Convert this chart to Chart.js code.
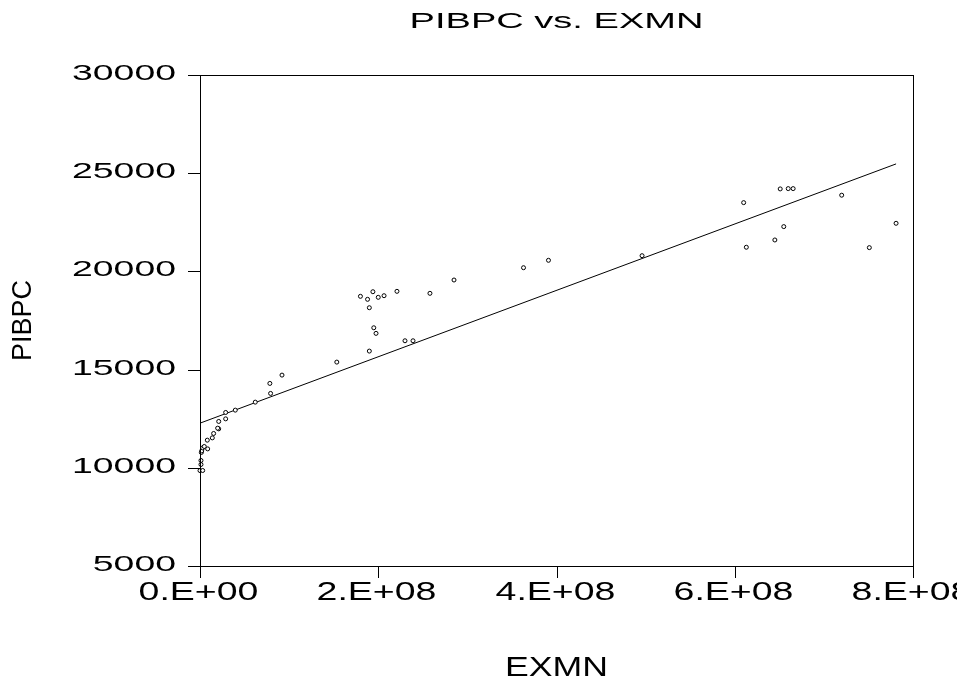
<!DOCTYPE html>
<html>
<head>
<meta charset="utf-8">
<script src="https://cdn.jsdelivr.net/npm/chart.js@4/dist/chart.umd.min.js"></script>
<style>
html,body{margin:0;padding:0;background:#fff;}
#wrap{width:957px;height:686px;position:relative;}
</style>
</head>
<body>
<div id="wrap"><canvas id="c" width="957" height="686"></canvas></div>
<script>
// ---- data ----
const exmn = [
  0, 3.0e6, 1.1e6, 1.1e6, 1.5e6, 1.9e6, 8.6e6, 3.0e6, 4.8e6, 8.2e6,
  1.38e7, 1.53e7, 2.1e7, 1.98e7, 2.1e7, 2.88e7, 2.88e7, 3.96e7, 6.2e7, 7.92e7,
  7.84e7, 9.2e7, 1.535e8, 1.90e8, 1.95e8, 1.975e8, 2.30e8, 2.39e8, 1.90e8, 1.80e8,
  1.88e8, 1.94e8, 2.0e8, 2.065e8, 2.21e8, 2.58e8, 2.85e8, 3.63e8, 3.91e8, 4.96e8,
  6.10e8, 6.51e8, 6.60e8, 6.655e8, 7.20e8, 6.55e8, 7.81e8, 6.45e8, 6.13e8, 7.51e8
];
const pibpc = [
  9860, 9863, 10168, 10372, 10780, 10861, 10963, 11014, 11085, 11407,
  11524, 11748, 11983, 12018, 12360, 12492, 12818, 12936, 13343, 13787,
  14297, 14720, 15382, 15943, 17130, 16845, 16468, 16468, 18150, 18731,
  18578, 18965, 18680, 18762, 18986, 18884, 19562, 20188, 20565, 20800,
  23501, 24200, 24215, 24215, 23880, 22280, 22450, 21600, 21230, 21210
];
const fitX = [0, 7.81e8];
const fitY = [12273, 25473];
const yTicks = [5000, 10000, 15000, 20000, 25000, 30000];
const xTicks = [0, 2e8, 4e8, 6e8, 8e8];
const xTickLabels = ['0.E+00', '2.E+08', '4.E+08', '6.E+08', '8.E+08'];
const titleText = 'PIBPC vs. EXMN';
const xTitle = 'EXMN';
const yTitle = 'PIBPC';

const FAM = '"Liberation Sans", Arial, sans-serif';

function stretchText(ctx, text, x, y, align, size, sx) {
  ctx.save();
  ctx.font = size + 'px ' + FAM;
  ctx.translate(x, y);
  ctx.scale(sx, 1);
  ctx.textAlign = align;
  ctx.textBaseline = 'middle';
  ctx.fillText(text, 0, 0);
  ctx.restore();
}

const decor = {
  id: 'decor',
  afterDraw(chart) {
    const ctx = chart.ctx;
    const a = chart.chartArea;
    const xs = chart.scales.x, ys = chart.scales.y;
    ctx.save();
    ctx.strokeStyle = '#000';
    ctx.fillStyle = '#000';
    ctx.lineWidth = 1;
    // frame
    ctx.strokeRect(Math.round(a.left) + 0.5, Math.round(a.top) + 0.5,
      Math.round(a.right - a.left), Math.round(a.bottom - a.top));
    // y ticks
    yTicks.forEach(v => {
      const py = Math.round(ys.getPixelForValue(v)) + 0.5;
      ctx.beginPath();
      ctx.moveTo(a.left - 12, py);
      ctx.lineTo(a.left, py);
      ctx.stroke();
      stretchText(ctx, String(v), a.left - 24, py - 2, 'right', 22, 1.7);
    });
    // x ticks
    xTicks.forEach((v, i) => {
      const px = Math.round(xs.getPixelForValue(v)) + 0.5;
      ctx.beginPath();
      ctx.moveTo(px, a.bottom);
      ctx.lineTo(px, a.bottom + 12);
      ctx.stroke();
      stretchText(ctx, xTickLabels[i], px - 2, a.bottom + 27, 'center', 25, 1.5);
    });
    // titles
    const cx = (a.left + a.right) / 2;
    stretchText(ctx, titleText, cx, 22, 'center', 21.5, 1.77);
    stretchText(ctx, xTitle, cx, 669, 'center', 27, 1.32);
    ctx.save();
    ctx.translate(24, (a.top + a.bottom) / 2);
    ctx.rotate(-Math.PI / 2);
    ctx.font = '27px ' + FAM;
    ctx.textAlign = 'center';
    ctx.textBaseline = 'middle';
    ctx.fillText(yTitle, 0, 0);
    ctx.restore();
    ctx.restore();
  }
};

new Chart(document.getElementById('c'), {
  type: 'scatter',
  data: {
    datasets: [
      {
        label: 'PIBPC',
        data: exmn.map((x, i) => ({ x: x, y: pibpc[i] })),
        pointRadius: 2,
        pointBorderWidth: 1,
        pointBorderColor: '#000',
        pointBackgroundColor: '#fff',
        showLine: false,
        clip: false
      },
      {
        label: 'fit',
        data: fitX.map((x, i) => ({ x: x, y: fitY[i] })),
        showLine: true,
        borderColor: '#000',
        borderWidth: 1,
        pointRadius: 0,
        fill: false
      }
    ]
  },
  options: {
    responsive: false,
    animation: false,
    devicePixelRatio: 1,
    layout: { padding: { left: 200, right: 44, top: 75, bottom: 120 } },
    plugins: { legend: { display: false }, tooltip: { enabled: false }, title: { display: false } },
    scales: {
      x: { type: 'linear', display: false, min: 0, max: 8e8 },
      y: { type: 'linear', display: false, min: 5000, max: 30000 }
    }
  },
  plugins: [decor]
});
</script>
</body>
</html>
